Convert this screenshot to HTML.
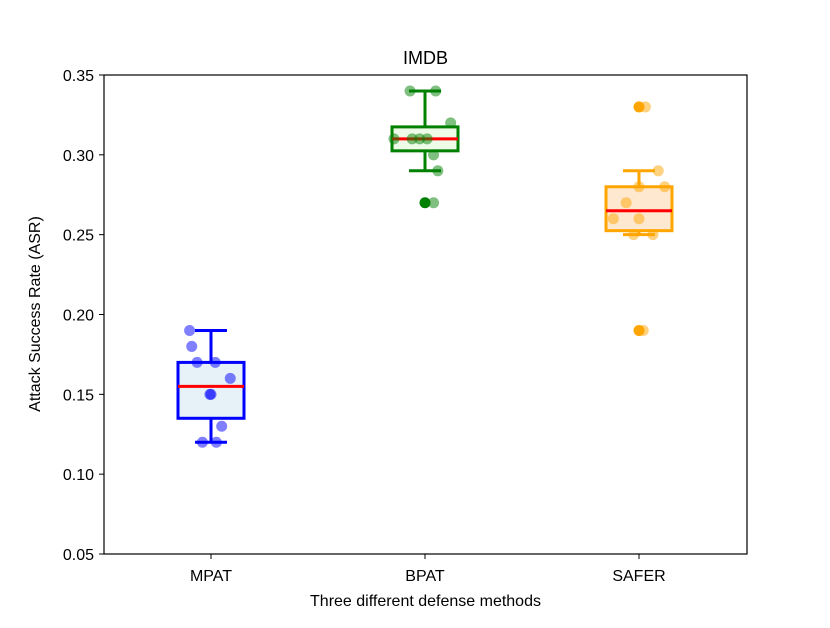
<!DOCTYPE html>
<html><head><meta charset="utf-8"><style>
html,body{margin:0;padding:0;background:#fff;}
svg text{font-family:"Liberation Sans","DejaVu Sans",sans-serif;fill:#000;}
</style></head><body>
<svg id="chart" width="830" height="623" viewBox="0 0 830 623" xmlns="http://www.w3.org/2000/svg">
<rect x="0" y="0" width="830" height="623" fill="#fff"/>
<g id="marks"></g>
<rect x="104" y="75" width="643" height="479" fill="none" stroke="#000" stroke-width="1.2"/>
<g id="axes"></g>
<text x="425.5" y="64" font-size="18" text-anchor="middle">IMDB</text>
<text x="425.5" y="606" font-size="16" text-anchor="middle">Three different defense methods</text>
<text x="40" y="314" font-size="16" text-anchor="middle" transform="rotate(-90 40 314)">Attack Success Rate (ASR)</text>
</svg>
<script>
const categories = ["MPAT","BPAT","SAFER"];
const colors = ["#0000ff","#008000","#ffa500"];
const fills = ["#e6f2f8","#eefbe6","#ffe8d0"];
const q1 = [0.135,0.3025,0.2525];
const medians = [0.155,0.31,0.265];
const q3 = [0.17,0.3175,0.28];
const whiskLow = [0.12,0.29,0.25];
const whiskHigh = [0.19,0.34,0.29];
const fliers = [[],[0.27],[0.33,0.19]];
const pointValues = [
 [0.19,0.18,0.17,0.17,0.16,0.15,0.15,0.13,0.12,0.12],
 [0.34,0.34,0.32,0.31,0.31,0.31,0.31,0.30,0.29,0.27],
 [0.33,0.29,0.28,0.28,0.27,0.26,0.26,0.25,0.25,0.19]
];
const pointJitter = [
 [-0.10,-0.09,-0.065,0.02,0.09,0.0,-0.005,0.05,-0.04,0.025],
 [-0.07,0.05,0.12,-0.145,-0.06,-0.025,0.01,0.04,0.06,0.04],
 [0.03,0.09,0.0,0.12,-0.06,-0.12,0.0,-0.025,0.065,0.02]
];
const yTicks = [0.05,0.10,0.15,0.20,0.25,0.30,0.35];
const yTickLabels = ["0.05","0.10","0.15","0.20","0.25","0.30","0.35"];

const NS="http://www.w3.org/2000/svg";
const yScale = v => 554 - (v-0.05)/0.30*479;
const xScale = i => 211 + i*214;
const marks=document.getElementById('marks'), axes=document.getElementById('axes');
function mk(tag,attrs,parent){const e=document.createElementNS(NS,tag);for(const k in attrs)e.setAttribute(k,attrs[k]);parent.appendChild(e);return e;}

yTicks.forEach((t,i)=>{
  const y=yScale(t);
  const tk=mk('line',{x1:99,x2:104,y1:y,y2:y,stroke:'#000','stroke-width':1},axes);
  
  
  const tx=mk('text',{x:94,y:y+6,'font-size':16,'text-anchor':'end'},axes);
  tx.textContent=yTickLabels[i];
  
  
});
categories.forEach((c,i)=>{
  const x=xScale(i);
  const tk=mk('line',{x1:x,x2:x,y1:554,y2:559,stroke:'#000','stroke-width':1},axes);
  
  
  const tx=mk('text',{x:x,y:581,'font-size':16,'text-anchor':'middle'},axes);
  tx.textContent=c;
  
  
});
categories.forEach((c,i)=>{
  const x=xScale(i), col=colors[i];
  const g=mk('g',{},marks);
  
  
  mk('line',{x1:x,x2:x,y1:yScale(q1[i]),y2:yScale(whiskLow[i]),stroke:col,'stroke-width':3},g);
  mk('line',{x1:x,x2:x,y1:yScale(q3[i]),y2:yScale(whiskHigh[i]),stroke:col,'stroke-width':3},g);
  mk('line',{x1:x-16,x2:x+16,y1:yScale(whiskLow[i]),y2:yScale(whiskLow[i]),stroke:col,'stroke-width':3},g);
  mk('line',{x1:x-16,x2:x+16,y1:yScale(whiskHigh[i]),y2:yScale(whiskHigh[i]),stroke:col,'stroke-width':3},g);
  mk('rect',{x:x-33,y:yScale(q3[i]),width:66,height:yScale(q1[i])-yScale(q3[i]),fill:fills[i],stroke:col,'stroke-width':3},g);
  mk('line',{x1:x-33,x2:x+33,y1:yScale(medians[i]),y2:yScale(medians[i]),stroke:'#ff0000','stroke-width':3},g);
  fliers[i].forEach(v=>{
    const f=mk('circle',{cx:x,cy:yScale(v),r:5.5,fill:col},g);
    
    
  });
  pointValues[i].forEach((v,j)=>{
    const p=mk('circle',{cx:x+pointJitter[i][j]*214,cy:yScale(v),r:5.5,fill:col,'fill-opacity':0.5},marks);
    
    
  });
});
</script>
</body></html>
